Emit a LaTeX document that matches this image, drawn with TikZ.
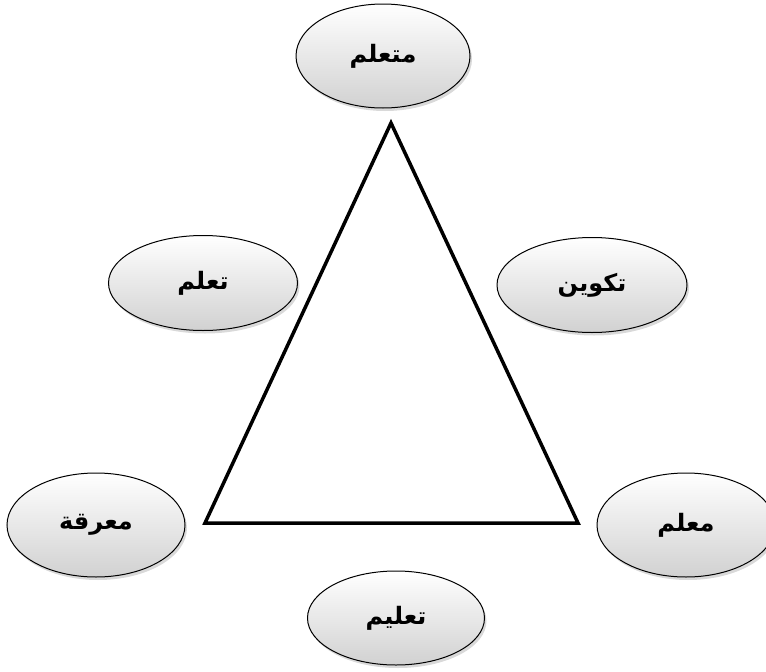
\documentclass[tikz,border=0pt]{standalone}
\usepackage{fontspec}
\newfontfamily\arabicfont[Script=Arabic]{DejaVu Sans}
\TeXXeTstate=1
\usetikzlibrary{shapes.geometric,shadows}
\begin{document}
\begin{tikzpicture}[x=1pt,y=-1pt,
  bubble/.style={ellipse, draw=black, line width=1pt, top color=white, bottom color=black!18,
    drop shadow={shadow xshift=2pt, shadow yshift=-3pt, opacity=0.3},
    font=\arabicfont\bfseries\fontsize{24}{28}\selectfont, inner sep=0pt},
  tri/.style={draw=black, line width=3.5pt, line join=miter}]
\useasboundingbox (0,0) rectangle (766,672);
\node[bubble, minimum width=174, minimum height=104] (b1) at (383,56) {\beginR متعلم\endR};
\node[bubble, minimum width=189, minimum height=95] (b2) at (203,283) {\beginR تعلم\endR};
\node[bubble, minimum width=190, minimum height=95] (b3) at (592,285) {\beginR تكوين\endR};
\node[bubble, minimum width=178, minimum height=104] (b4) at (96,525) {\beginR معرقة\endR};
\node[bubble, minimum width=178, minimum height=104] (b5) at (686,525) {\beginR معلم\endR};
\node[bubble, minimum width=177, minimum height=94] (b6) at (396,618) {\beginR تعليم\endR};
\coordinate (t1) at (391,123);
\coordinate (t2) at (205,523);
\coordinate (t3) at (578,523);
\draw[tri] (t1) -- (t2) -- (t3) -- cycle;
\end{tikzpicture}
\end{document}
